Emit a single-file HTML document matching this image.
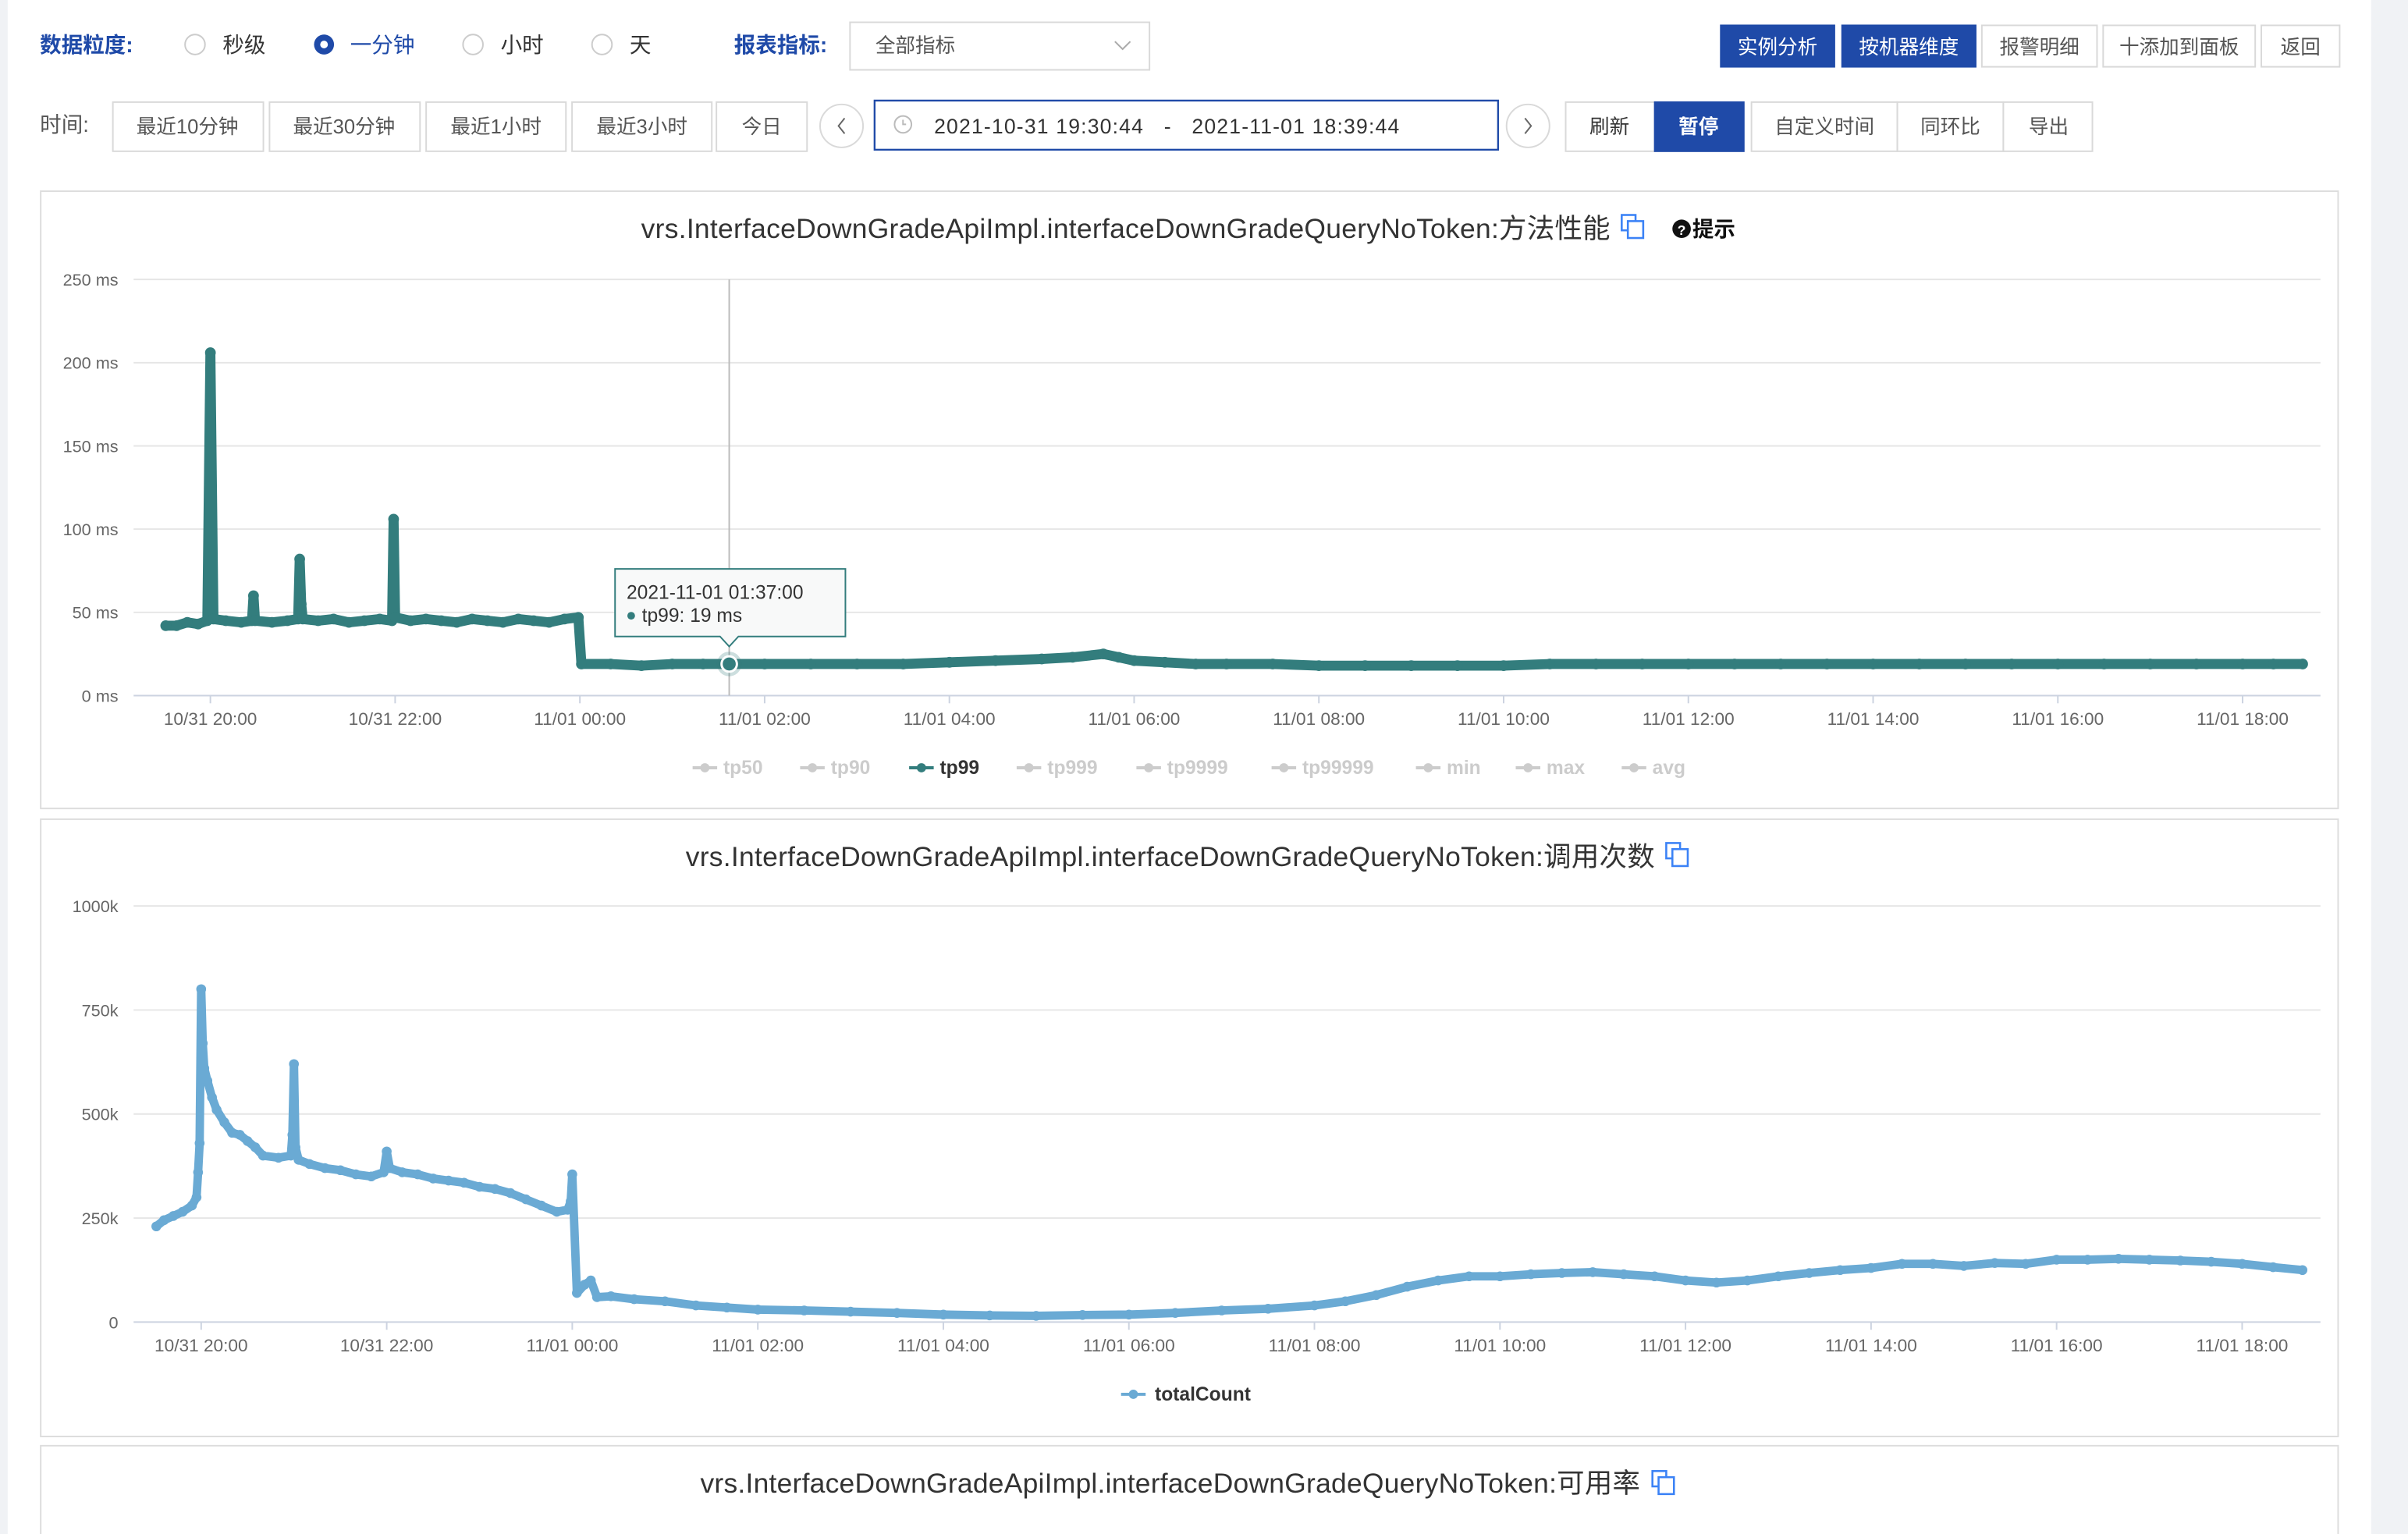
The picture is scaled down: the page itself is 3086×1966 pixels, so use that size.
<!DOCTYPE html>
<html><head><meta charset="utf-8"><style>
html,body{margin:0;padding:0;background:#fff;}
svg{display:block;}
text{font-family:"Liberation Sans","Noto Sans CJK SC",sans-serif;}
</style></head><body>
<svg id="root" width="3086" height="1966" viewBox="0 0 1568 999" preserveAspectRatio="none" xmlns="http://www.w3.org/2000/svg">
<rect x="0" y="0" width="1568" height="999" fill="#fff"/>
<rect x="0" y="0" width="5" height="999" fill="#f0f2f5"/>
<rect x="1544" y="0" width="24" height="999" fill="#f0f2f5"/>

<!-- Row 1 -->
<g font-size="14">
<text x="26" y="34" fill="#1f4aa8" font-weight="bold">数据粒度:</text>
<g><circle cx="127" cy="29" r="6.5" fill="#fff" stroke="#ccc"/><text x="145" y="34" fill="#333">秒级</text></g>
<g><circle cx="211" cy="29" r="6.5" fill="#1f4aa8"/><circle cx="211" cy="29" r="2.5" fill="#fff"/><text x="228" y="34" fill="#1f4aa8">一分钟</text></g>
<g><circle cx="308" cy="29" r="6.5" fill="#fff" stroke="#ccc"/><text x="326" y="34" fill="#333">小时</text></g>
<g><circle cx="392" cy="29" r="6.5" fill="#fff" stroke="#ccc"/><text x="410" y="34" fill="#333">天</text></g>
<text x="478" y="34" fill="#1f4aa8" font-weight="bold">报表指标:</text>
<g><rect x="553.5" y="14.5" width="195" height="31" fill="#fff" stroke="#d9d9d9"/><text x="570" y="34" fill="#555" font-size="13">全部指标</text><path d="M726 27 L731 32 L736 27" fill="none" stroke="#aaa"/></g>
</g>
<g font-size="13" text-anchor="middle">
<g><rect x="1120" y="16" width="75" height="28" fill="#1f4aa8"/><text x="1157.5" y="35" fill="#fff">实例分析</text></g>
<g><rect x="1199" y="16" width="88" height="28" fill="#1f4aa8"/><text x="1243" y="35" fill="#fff">按机器维度</text></g>
<g><rect x="1290.5" y="16.5" width="75" height="27" fill="#fff" stroke="#d9d9d9"/><text x="1328" y="35" fill="#555">报警明细</text></g>
<g><rect x="1369.5" y="16.5" width="99" height="27" fill="#fff" stroke="#d9d9d9"/><text x="1419" y="35" fill="#555">十添加到面板</text></g>
<g><rect x="1472.5" y="16.5" width="51" height="27" fill="#fff" stroke="#d9d9d9"/><text x="1498" y="35" fill="#555">返回</text></g>
</g>

<!-- Row 2 -->
<text x="26" y="86" font-size="14" fill="#555">时间:</text>
<g font-size="13" text-anchor="middle" fill="#555">
<g><rect x="73.5" y="66.5" width="98" height="32" fill="#fff" stroke="#d9d9d9"/><text x="122" y="87">最近10分钟</text></g>
<g><rect x="175.5" y="66.5" width="98" height="32" fill="#fff" stroke="#d9d9d9"/><text x="224" y="87">最近30分钟</text></g>
<g><rect x="277.5" y="66.5" width="91" height="32" fill="#fff" stroke="#d9d9d9"/><text x="323" y="87">最近1小时</text></g>
<g><rect x="372.5" y="66.5" width="91" height="32" fill="#fff" stroke="#d9d9d9"/><text x="418" y="87">最近3小时</text></g>
<g><rect x="466.5" y="66.5" width="59" height="32" fill="#fff" stroke="#d9d9d9"/><text x="496" y="87">今日</text></g>
<g><circle cx="548" cy="82" r="14" fill="#fff" stroke="#d9d9d9"/><path d="M550 77 L546 82 L550 87" fill="none" stroke="#666"/></g>
<g><rect x="569.5" y="65.5" width="406" height="32" fill="#fff" stroke="#1f4aa8" stroke-width="1.2"/><circle cx="588" cy="81" r="5.5" fill="none" stroke="#bbb"/><path d="M588 78 V81 H590" fill="none" stroke="#bbb"/><text x="760" y="87" fill="#333" font-size="13.5" style="letter-spacing:0.6px;white-space:pre" xml:space="preserve">2021-10-31 19:30:44   -   2021-11-01 18:39:44</text></g>
<g><circle cx="995" cy="82" r="14" fill="#fff" stroke="#d9d9d9"/><path d="M993 77 L997 82 L993 87" fill="none" stroke="#666"/></g>
<g><rect x="1019.5" y="66.5" width="58" height="32" fill="#fff" stroke="#d9d9d9"/><text x="1048" y="87" fill="#333">刷新</text></g>
<g><rect x="1077" y="66" width="59" height="33" fill="#1f4aa8"/><text x="1106" y="87" fill="#fff" font-weight="bold">暂停</text></g>
<g><rect x="1140.5" y="66.5" width="95" height="32" fill="#fff" stroke="#d9d9d9"/><text x="1188" y="87">自定义时间</text></g>
<g><rect x="1235.5" y="66.5" width="69" height="32" fill="#fff" stroke="#d9d9d9"/><text x="1270" y="87">同环比</text></g>
<g><rect x="1304.5" y="66.5" width="58" height="32" fill="#fff" stroke="#d9d9d9"/><text x="1334" y="87">导出</text></g>
</g>

<!-- Panels -->
<rect x="26.5" y="124.5" width="1496" height="402" fill="#fff" stroke="#ddd"/>
<rect x="26.5" y="533.5" width="1496" height="402" fill="#fff" stroke="#ddd"/>
<rect x="26.5" y="941.5" width="1496" height="70" fill="#fff" stroke="#ddd"/>

<text x="733" y="155" font-size="18" fill="#333" text-anchor="middle" textLength="631">vrs.InterfaceDownGradeApiImpl.interfaceDownGradeQueryNoToken:方法性能</text>
<g><rect x="1056" y="140" width="9" height="10" fill="none" stroke="#3b82f6" stroke-width="1.3"/><rect x="1060" y="144" width="10" height="11" fill="#fff" stroke="#3b82f6" stroke-width="1.3"/></g>
<g><circle cx="1095" cy="149" r="6" fill="#111"/><text x="1095" y="153" font-size="9" fill="#fff" text-anchor="middle" font-weight="bold">?</text><text x="1102" y="154" font-size="14" font-weight="bold" fill="#111">提示</text></g>

<text x="762" y="564" font-size="18" fill="#333" text-anchor="middle" textLength="631">vrs.InterfaceDownGradeApiImpl.interfaceDownGradeQueryNoToken:调用次数</text>
<g><rect x="1085" y="549" width="9" height="10" fill="none" stroke="#3b82f6" stroke-width="1.3"/><rect x="1089" y="553" width="10" height="11" fill="#fff" stroke="#3b82f6" stroke-width="1.3"/></g>

<text x="762" y="972" font-size="18" fill="#333" text-anchor="middle" textLength="612">vrs.InterfaceDownGradeApiImpl.interfaceDownGradeQueryNoToken:可用率</text>
<g><rect x="1076" y="958" width="9" height="10" fill="none" stroke="#3b82f6" stroke-width="1.3"/><rect x="1080" y="962" width="10" height="11" fill="#fff" stroke="#3b82f6" stroke-width="1.3"/></g>

<g id="chart1"></g>
<g id="chart2"></g>
</svg>
<script>
// ---- chart 1 data (tp99, ms) ----
const tp99Times = ["19:31","19:38","19:45","19:52","19:58","20:00","20:02","20:10","20:20","20:27","20:28","20:29","20:40","20:50","20:57","20:58","20:59","21:00","21:10","21:20","21:30","21:40","21:50","21:58","21:59","22:00","22:10","22:20","22:30","22:40","22:50","23:00","23:10","23:20","23:30","23:40","23:50","23:59","00:01","00:20","00:40","01:00","01:20","01:37","02:00","02:30","03:00","03:30","04:00","04:30","05:00","05:20","05:40","05:50","06:00","06:20","06:40","07:00","07:30","08:00","08:30","09:00","09:30","10:00","10:30","11:00","11:30","12:00","12:30","13:00","13:30","14:00","14:30","15:00","15:30","16:00","16:30","17:00","17:30","18:00","18:20","18:39"];
const tp99Values = [42,42,44,43,45,206,46,45,44,45,60,45,44,45,46,82,55,46,45,46,44,45,46,45,106,47,45,46,45,44,46,45,44,46,45,44,46,47,19,19,18,19,19,19,19,19,19,19,20,21,22,23,25,23,21,20,19,19,19,18,18,18,18,18,19,19,19,19,19,19,19,19,19,19,19,19,19,19,19,19,19,19];
const yTicks1 = [0,50,100,150,200,250];
const xTickLabels = ["10/31 20:00","10/31 22:00","11/01 00:00","11/01 02:00","11/01 04:00","11/01 06:00","11/01 08:00","11/01 10:00","11/01 12:00","11/01 14:00","11/01 16:00","11/01 18:00"];
const legend1 = ["tp50","tp90","tp99","tp999","tp9999","tp99999","min","max","avg"];

// ---- chart 2 data (totalCount, k) ----
const countTimes = ["19:31","19:36","19:42","19:48","19:54","19:57","19:58","19:59","20:00","20:01","20:02","20:04","20:07","20:10","20:15","20:20","20:25","20:30","20:35","20:40","20:50","20:58","20:59","21:00","21:01","21:03","21:10","21:20","21:30","21:40","21:50","21:58","22:00","22:02","22:10","22:20","22:30","22:40","22:50","23:00","23:10","23:20","23:30","23:40","23:50","23:57","23:59","00:00","00:03","00:08","00:12","00:16","00:25","00:40","01:00","01:20","01:40","02:00","02:30","03:00","03:30","04:00","04:30","05:00","05:30","06:00","06:30","07:00","07:30","08:00","08:20","08:40","09:00","09:20","09:40","10:00","10:20","10:40","11:00","11:20","11:40","12:00","12:20","12:40","13:00","13:20","13:40","14:00","14:20","14:40","15:00","15:20","15:40","16:00","16:20","16:40","17:00","17:20","17:40","18:00","18:20","18:39"];
const countValues = [230,245,255,265,280,300,360,430,800,670,610,580,540,510,480,455,450,435,420,400,395,400,450,620,420,390,380,370,365,355,350,360,410,370,360,355,345,340,335,325,320,310,295,280,265,270,290,355,70,90,100,60,62,55,50,40,35,30,28,25,22,18,16,15,17,18,22,28,32,40,50,65,85,100,110,110,115,118,120,115,110,100,95,100,110,118,125,130,140,140,135,142,140,150,150,152,150,148,145,140,132,125];
const yTicks2 = [0,250,500,750,1000];
const yTickLabels2 = ["0","250k","500k","750k","1000k"];

const NS = "http://www.w3.org/2000/svg";
function mk(tag, attrs, parent){const e=document.createElementNS(NS,tag);for(const k in attrs)e.setAttribute(k,attrs[k]);parent.appendChild(e);return e;}
function toMin(t){let [h,m]=t.split(":").map(Number);if(h<19)h+=24;return (h-20)*60+m;} // minutes from 10/31 20:00

function drawChart(g, cfg){
  const xs = m => cfg.x20 + m*cfg.pxPerMin;
  const ys = v => cfg.y0 - (v/cfg.yMax)*(cfg.y0-cfg.yTop);
  cfg.yTicks.forEach((t,i)=>{
    const gl=mk("line",{x1:cfg.left,x2:cfg.right,y1:ys(t),y2:ys(t),stroke:i===0?"#ccd3e0":"#e6e6e6","stroke-width":1},g);
    
    
    const tl=mk("text",{x:cfg.left-10,y:ys(t)+4,"font-size":11,fill:"#666","text-anchor":"end"},g);
    tl.textContent=cfg.yLabels[i];
    
    
  });
  xTickLabels.forEach((lab,i)=>{
    const x=xs(i*120);
    const tk=mk("line",{x1:x,x2:x,y1:cfg.y0,y2:cfg.y0+5,stroke:"#ccd3e0"},g);
    
    
    const tl=mk("text",{x:x,y:cfg.y0+19,"font-size":11.5,fill:"#666","text-anchor":"middle"},g);
    tl.textContent=lab;
    
    
  });
  if(cfg.cursor){
    const cx=xs(toMin(cfg.cursor));
    const cl=mk("line",{x1:cx,x2:cx,y1:cfg.yTop,y2:cfg.y0,stroke:"#bbb"},g);
    
    
  }
  const pts=cfg.times.map((t,i)=>[xs(toMin(t)),ys(cfg.values[i])]);
  const line=mk("polyline",{points:pts.map(p=>p.join(",")).join(" "),fill:"none",stroke:cfg.color,"stroke-width":cfg.sw,"stroke-linejoin":"round"},g);
  
  
  pts.forEach(p=>{
    const c=mk("circle",{cx:p[0],cy:p[1],r:cfg.r,fill:cfg.color},g);
    
    
  });
  return {xs,ys};
}

const g1=document.getElementById("chart1");
const a1=drawChart(g1,{x20:137,pxPerMin:120.3/120,y0:453,yTop:182,yMax:250,left:87,right:1511,yTicks:yTicks1,yLabels:yTicks1.map(v=>v+" ms"),times:tp99Times,values:tp99Values,color:"#337d7d",sw:6.5,r:3.5,cursor:"01:37"});
{
  const hx=a1.xs(toMin("01:37")), hy=a1.ys(tp99Values[tp99Times.indexOf("01:37")]);
  const halo=mk("circle",{cx:hx,cy:hy,r:8,fill:"#337d7d","fill-opacity":0.25},g1);
  
  
  const hp=mk("circle",{cx:hx,cy:hy,r:5,fill:"#337d7d",stroke:"#fff","stroke-width":1.5},g1);
  
  
  const tip=mk("g",{},g1);
  
  
  mk("path",{d:`M400.5 370.5 H550.5 V414.5 H${hx+6} L${hx} 421 L${hx-6} 414.5 H400.5 Z`,fill:"#f8f9f9",stroke:"#337d7d","stroke-width":1},tip);
  const t1=mk("text",{x:408,y:390,"font-size":12.5,fill:"#333"},tip);t1.textContent="2021-11-01 01:37:00";
  mk("circle",{cx:411,cy:401,r:2.5,fill:"#337d7d"},tip);
  const t2=mk("text",{x:418,y:405,"font-size":12.5,fill:"#333"},tip);t2.textContent="tp99: 19 ms";
}
{
  const lx=[451,521,592,662,740,828,922,987,1056];
  legend1.forEach((n,i)=>{
    const lg=mk("g",{},g1);
    
    
    const on=n==="tp99";
    const col=on?"#337d7d":"#ccc";
    mk("line",{x1:lx[i],x2:lx[i]+16,y1:500,y2:500,stroke:col,"stroke-width":2},lg);
    mk("circle",{cx:lx[i]+8,cy:500,r:3,fill:col},lg);
    const t=mk("text",{x:lx[i]+20,y:504,"font-size":12.5,fill:on?"#333":"#ccc","font-weight":"bold"},lg);t.textContent=n;
  });
}

const g2=document.getElementById("chart2");
drawChart(g2,{x20:131,pxPerMin:(1460-131)/(22*60),y0:861,yTop:590,yMax:1000,left:87,right:1511,yTicks:yTicks2,yLabels:yTickLabels2,times:countTimes,values:countValues,color:"#6aaad4",sw:5.5,r:3.2});
{
  const lg=mk("g",{},g2);
  
  
  mk("line",{x1:730,x2:746,y1:908,y2:908,stroke:"#6aaad4","stroke-width":2},lg);
  mk("circle",{cx:738,cy:908,r:3,fill:"#6aaad4"},lg);
  const t=mk("text",{x:752,y:912,"font-size":12.5,fill:"#333","font-weight":"bold"},lg);t.textContent="totalCount";
}
</script>
</body></html>
